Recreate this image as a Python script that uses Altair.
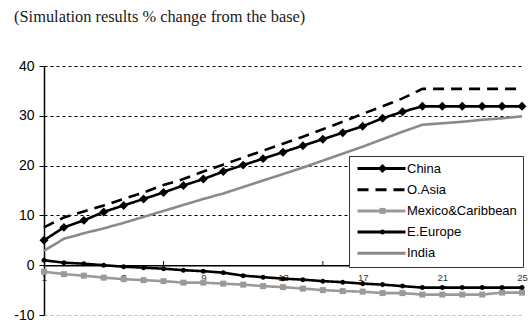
import altair as alt
import pandas as pd

# ---------------- data ----------------
periods = [1, 2, 3, 4, 5, 6, 7, 8, 9, 10, 11, 12, 13, 14, 15, 16, 17, 18, 19, 20, 21, 22, 23, 24, 25]
series_names = ["China", "O.Asia", "Mexico&Caribbean", "E.Europe", "India"]

china = [5.0, 7.6, 9.0, 10.7, 12.0, 13.3, 14.6, 16.0, 17.3, 18.8, 20.1, 21.4, 22.7,
         24.0, 25.3, 26.6, 27.9, 29.5, 30.8, 31.9, 31.9, 31.9, 31.9, 31.9, 31.9]
oasia = [7.6, 9.6, 10.8, 12.0, 13.3, 14.6, 16.1, 17.3, 18.8, 20.2, 21.6, 23.0, 24.4,
         25.8, 27.3, 28.8, 30.4, 31.9, 33.5, 35.4, 35.4, 35.4, 35.4, 35.4, 35.4]
mexico = [-1.3, -1.8, -2.1, -2.5, -2.8, -3.0, -3.2, -3.5, -3.5, -3.7, -3.9, -4.2, -4.4,
          -4.7, -5.0, -5.2, -5.3, -5.6, -5.6, -5.9, -5.9, -5.9, -5.9, -5.5, -5.5]
eeurope = [1.0, 0.5, 0.3, 0.0, -0.3, -0.5, -0.7, -1.0, -1.2, -1.5, -2.1, -2.4, -2.7,
           -2.9, -3.2, -3.4, -3.7, -3.9, -4.2, -4.5, -4.5, -4.5, -4.5, -4.5, -4.5]
india = [2.9, 5.3, 6.4, 7.4, 8.5, 9.7, 10.9, 12.1, 13.3, 14.4, 15.7, 17.0, 18.3,
         19.6, 21.0, 22.4, 23.8, 25.3, 26.8, 28.2, 28.5, 28.8, 29.2, 29.5, 29.9]

marker_series = ["China", "Mexico&Caribbean", "E.Europe"]
y_tick_values = [-10, 0, 10, 20, 30, 40]
x_label_values = [1, 5, 9, 13, 17, 21, 25]
x_tick_values = [7, 15, 23]
title_text = "(Simulation results % change from the base)"

# ---------------- styles ----------------
line_colors = ["#000000", "#000000", "#9a9a9a", "#000000", "#8a8a8a"]
line_dashes = [[1, 0], [11, 7], [1, 0], [1, 0], [1, 0]]
marker_colors = ["#000000", "#000000", "#9a9a9a", "#000000", "#8a8a8a"]
marker_paths = [
    "M0,-1L1,0L0,1L-1,0Z",                                   # diamond
    "M0,0",                                                   # none
    "M-0.67,-0.67H0.67V0.67H-0.67Z",                          # square
    "M-0.56,0A0.56,0.56,0,1,0,0.56,0A0.56,0.56,0,1,0,-0.56,0Z",  # small circle
    "M0,0",                                                   # none
]

W, H = 478, 249
YMIN, YMAX = -10, 40
PAD_L, PAD_T = 44, 66

rows = []
for name, vals in zip(series_names, [china, oasia, mexico, eeurope, india]):
    for p, v in zip(periods, vals):
        rows.append({"period": p, "value": v, "series": name, "mk": name + " "})
df = pd.DataFrame(rows)
mk_domain = [s + " " for s in series_names]
ticks_df = pd.DataFrame({"period": x_tick_values})

x_enc = alt.X(
    "period:Q",
    scale=alt.Scale(domain=[periods[0], periods[-1]], nice=False, zero=False),
    axis=alt.Axis(
        values=x_label_values, ticks=False, grid=False, title=None,
        domainColor="black", domainWidth=1.5,
        labelFont="Liberation Sans", labelFontSize=9.5, labelColor="#333333",
        labelPadding=7, labelFlush=False,
        offset=-H * (0 - YMIN) / (YMAX - YMIN),
    ),
)
y_enc = alt.Y(
    "value:Q",
    scale=alt.Scale(domain=[YMIN, YMAX], nice=False, zero=False),
    axis=alt.Axis(
        values=y_tick_values, title=None, grid=True,
        gridColor=alt.condition("datum.value == -10", alt.value("#bbbbbb"), alt.value("black")),
        gridDash=[3, 3], gridWidth=1,
        domainColor="black", domainWidth=1.5,
        tickColor="black", tickSize=5, tickWidth=1,
        labelFont="Liberation Sans", labelFontSize=14, labelColor="black",
        labelPadding=5, labelExpr="'' + datum.value",
    ),
)

# legend geometry
LEG_X, LEG_Y, LEG_PAD, ROW_PAD = 305, 90, 6, 7.2
line_legend = alt.Legend(
    title=None, orient="none", legendX=LEG_X, legendY=LEG_Y,
    padding=LEG_PAD, rowPadding=ROW_PAD,
    symbolType="M-1,0H11", symbolSize=64, symbolStrokeWidth=3,
    labelFont="Liberation Sans", labelFontSize=13, labelColor="black", labelOffset=39,
    strokeColor="#333333", fillColor="white", cornerRadius=0,
)
marker_legend = alt.Legend(
    title=None, orient="none", legendX=LEG_X + 21, legendY=LEG_Y,
    padding=LEG_PAD, rowPadding=ROW_PAD,
    symbolSize=80, symbolStrokeWidth=0,
    labelFont="Liberation Sans", labelFontSize=13, labelExpr="''",
)

lines = alt.Chart(df).mark_line(strokeWidth=2.6).encode(
    x=x_enc, y=y_enc,
    color=alt.Color("series:N", scale=alt.Scale(domain=series_names, range=line_colors), legend=line_legend),
    strokeDash=alt.StrokeDash("series:N", scale=alt.Scale(domain=series_names, range=line_dashes), legend=line_legend),
)

points = alt.Chart(df).transform_filter(
    alt.FieldOneOfPredicate(field="series", oneOf=marker_series)
).mark_point(filled=True, size=80, opacity=1, strokeWidth=0).encode(
    x="period:Q", y="value:Q",
    fill=alt.Fill("mk:N", scale=alt.Scale(domain=mk_domain, range=marker_colors), legend=marker_legend),
    shape=alt.Shape("mk:N", scale=alt.Scale(domain=mk_domain, range=marker_paths), legend=marker_legend),
)

tick_len = 4 * (YMAX - YMIN) / H
xticks = alt.Chart(ticks_df).mark_rule(color="black", strokeWidth=1).encode(
    x="period:Q", y=alt.datum(0), y2=alt.datum(tick_len),
)

chart = alt.layer(lines, points, xticks).properties(
    width=W, height=H,
    title=alt.Title(title_text, font="Liberation Serif", fontSize=16.4, fontWeight="normal",
                    color="#1a1a1a", anchor="start", frame="group", dx=-30, offset=34),
    padding={"left": PAD_L, "top": PAD_T, "right": 532 - PAD_L - W, "bottom": 323 - PAD_T - H},
    autosize=alt.AutoSizeParams(type="none"),
    background="white",
).configure_view(stroke=None)

chart.save("out.html", embed_options={"renderer": "svg", "actions": False})
